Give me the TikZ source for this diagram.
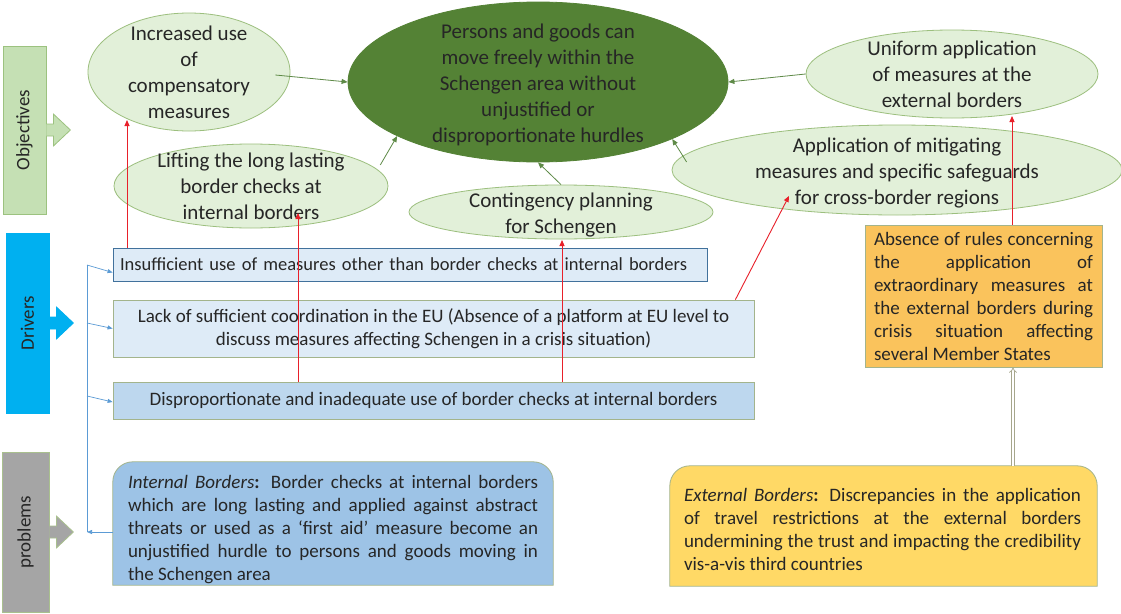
\documentclass[tikz,border=0pt]{standalone}
\usepackage{fontspec}
\setmainfont{Carlito}
\usetikzlibrary{positioning,calc,arrows.meta,shapes.geometric}
\hyphenpenalty=10000
\exhyphenpenalty=10000

\definecolor{txtgray}{HTML}{262626}
\definecolor{ellfill}{HTML}{E2F0D9}
\definecolor{elldraw}{HTML}{9CBF7E}
\definecolor{goalfill}{HTML}{548235}
\definecolor{goalarrow}{HTML}{5E8A47}
\definecolor{objfill}{HTML}{C5E0B4}
\definecolor{objdraw}{HTML}{9CC27F}
\definecolor{drvfill}{HTML}{00B0F0}
\definecolor{prbfill}{HTML}{A5A5A5}
\definecolor{prbdraw}{HTML}{A9C08E}
\definecolor{lightblue}{HTML}{DEEBF7}
\definecolor{midblue}{HTML}{BDD7EE}
\definecolor{darkblue}{HTML}{9DC3E6}
\definecolor{boxline}{HTML}{41719C}
\definecolor{greyline}{HTML}{A3B48C}
\definecolor{bracket}{HTML}{5B9BD5}
\definecolor{absfill}{HTML}{FAC35C}
\definecolor{extfill}{HTML}{FFD966}
\definecolor{redline}{HTML}{E8202A}
\definecolor{hollowline}{HTML}{A6A68C}

\begin{document}
\begin{tikzpicture}[x=1pt, y=-1pt,
        % Objective ellipses
        aim/.style={ellipse, draw=elldraw, fill=ellfill, line width=0.8pt, inner sep=0pt},
        aimtext/.style={align=center, font=\fontsize{21}{26}\selectfont, text=txtgray, inner sep=0pt},
        % Side panels
        panel/.style={line width=0.8pt, inner sep=0pt},
        paneltext/.style={rotate=90, font=\fontsize{19}{23}\selectfont, text=txtgray, inner sep=0pt},
        % Driver boxes
        driver/.style={draw=greyline, line width=0.8pt, font=\fontsize{19}{23}\selectfont, text=txtgray, align=center, inner sep=0pt},
        % Problem boxes
        problem/.style={font=\fontsize{19}{23}\selectfont, text=txtgray, align=justify, inner sep=0pt},
        % Arrow styles
        greenarrow/.style={-{Triangle[length=6pt,width=5pt]}, draw=goalarrow, line width=0.8pt},
        redarrow/.style={-{Triangle[length=6pt,width=5pt]}, draw=redline, line width=0.9pt},
        bluearrow/.style={-{Triangle[length=5pt,width=4pt]}, draw=bracket, line width=0.7pt},
        bracketline/.style={draw=bracket, line width=0.7pt},
        hollow/.style={-{Implies}, draw=hollowline, double=white, double distance=2pt, line width=0.7pt}
    ]

    % Canvas
    \useasboundingbox[fill=white] (0,0) rectangle (1121,613);

    % Side panels
    \node[panel, draw=objdraw, fill=objfill, minimum width=43pt, minimum height=168pt] (obj) at (24.5,130) {};
    \node[panel, draw=drvfill, fill=drvfill, minimum width=43pt, minimum height=180pt] (drv) at (27.5,323) {};
    \node[panel, draw=prbdraw, fill=prbfill, minimum width=47pt, minimum height=160pt] (prb) at (25.5,532) {};
    \foreach \p/\c/\d in {obj/objfill/objdraw, drv/drvfill/drvfill, prb/prbfill/prbdraw}
        \filldraw[fill=\c, draw=\d, line width=0.8pt]
            ($(\p.east)+(0,-6)$) -- ++(7,0) -- ++(0,-10) -- ++(17,16) -- ++(-17,16) -- ++(0,-10) -- ++(-7,0);
    \node[paneltext] (objT) at (obj) {Objectives};
    \node[paneltext] (drvT) at (drv) {Drivers};
    \node[paneltext] (prbT) at (prb) {problems};

    % Objectives
    \node[aim, fill=goalfill, draw=goalfill, minimum width=380pt, minimum height=160pt] (main) at (538,82) {};
    \node[aimtext] (mainT) at (538,84.5) {Persons and goods can\\move freely within the\\Schengen area without\\unjustified or\\disproportionate hurdles};
    \node[aim, minimum width=202pt, minimum height=118pt] (inc) at (189,72) {};
    \node[aimtext] (incT) at (inc) {Increased use\\of\\compensatory\\measures};
    \node[aim, minimum width=274pt, minimum height=84pt] (lift) at (251,186) {};
    \node[aimtext] (liftT) at (lift) {Lifting the long lasting\\border checks at\\internal borders};
    \node[aim, minimum width=304pt, minimum height=54pt] (cont) at (561,212) {};
    \node[aimtext] (contT) at (561,215) {Contingency planning\\for Schengen};
    \node[aim, minimum width=292pt, minimum height=88pt] (uni) at (952,74) {};
    \node[aimtext] (uniT) at (uni) {Uniform application\\of measures at the\\external borders};
    \node[aim, minimum width=450pt, minimum height=90pt] (app) at (897,170) {};
    \node[aimtext] (appT) at (897,173) {Application of mitigating\\measures and specific safeguards\\for cross-border regions};

    % Drivers
    \node[driver, draw=boxline, fill=lightblue, minimum width=594pt, minimum height=33pt, text width=580pt, align=left, font=\fontsize{18.5}{23}\selectfont] (ins) at (410,264.5) {Insufficient use of measures other than border checks at internal borders};
    \node[driver, fill=lightblue, minimum width=641pt, minimum height=57pt] (lack) at (433.5,328.5) {Lack of sufficient coordination in the EU (Absence of a platform at EU level to\\discuss measures affecting Schengen in a crisis situation)};
    \node[driver, fill=midblue, minimum width=641pt, minimum height=37pt] (dis) at (433.5,400.5) {Disproportionate and inadequate use of border checks at internal borders};
    \node[problem, draw=greyline, fill=absfill, line width=0.8pt, minimum width=237pt, minimum height=142pt, text width=219pt] (abs) at (983.5,296) {Absence of rules concerning\linebreak the application of\linebreak extraordinary measures at\linebreak the external borders during\linebreak crisis situation affecting\linebreak several Member States};

    % Problems
    \node[minimum width=440pt, minimum height=123pt, inner sep=0pt] (int) at (333,523.5) {};
    \filldraw[fill=darkblue, draw=greyline, line width=0.8pt] (int.south west) [rounded corners=20pt] -- (int.north west) -- (int.north east) [sharp corners] -- (int.south east) -- cycle;
    \node[problem, text width=410pt] (intT) at (333,530) {\textit{Internal Borders}\textbf{:} Border checks at internal borders\linebreak which are long lasting and applied against abstract\linebreak threats or used as a ‘first aid’ measure become an\linebreak unjustified hurdle to persons and goods moving in\linebreak the Schengen area};
    \node[minimum width=427pt, minimum height=120pt, inner sep=0pt] (ext) at (883.5,526) {};
    \filldraw[fill=extfill, draw=greyline, line width=0.8pt] (ext.south west) [rounded corners=20pt] -- (ext.north west) -- (ext.north east) [sharp corners] -- (ext.south east) -- cycle;
    \node[problem, text width=397pt] (extT) at (882.5,529) {\textit{External Borders}\textbf{:} Discrepancies in the application\linebreak of travel restrictions at the external borders\linebreak undermining the trust and impacting the credibility\linebreak vis-a-vis third countries};

    % Objectives feeding the general objective
    \draw[greenarrow] ([xshift=-15pt,yshift=-3pt]inc.east) -- (main.west);
    \draw[greenarrow] ([xshift=10pt]lift.10) -- (main.201);
    \draw[greenarrow] (cont.north) -- (main.south);
    \draw[greenarrow] ([xshift=15pt,yshift=8pt]app.west) -- (main.-23);
    \draw[greenarrow] (uni.west) -- (main.east);

    % Drivers to objectives
    \coordinate (incTip) at (127,120);
    \coordinate (liftTip) at (298,213);
    \coordinate (contTip) at (562,240);
    \coordinate (appTip) at (789,196);
    \coordinate (uniTip) at (1012,116);
    \draw[redarrow] (ins.north -| incTip) -- (incTip);
    \draw[redarrow] (dis.north -| liftTip) -- (liftTip);
    \draw[redarrow] (dis.north -| contTip) -- (contTip);
    \draw[redarrow] ([xshift=-19pt]lack.north east) -- (appTip);
    \draw[redarrow] (abs.north -| uniTip) -- (uniTip);

    % Problem to drivers bracket
    \coordinate (br1) at (87,265);
    \coordinate (br2) at (87,323);
    \coordinate (br3) at (87,396);
    \coordinate (br4) at (87,532);
    \draw[bracketline] (br1) -- (br4);
    \draw[bluearrow] (br1) -- ([yshift=-8pt]ins.west);
    \draw[bluearrow] (br2) -- (lack.west);
    \draw[bluearrow] (br3) -- ([yshift=-1.5pt]dis.west);
    \draw[bluearrow] (int.west |- br4) -- (br4);

    % External problem to driver
    \coordinate (holX) at (1013,0);
    \draw[hollow] (ext.north -| holX) -- (abs.south -| holX);

\end{tikzpicture}
\end{document}
